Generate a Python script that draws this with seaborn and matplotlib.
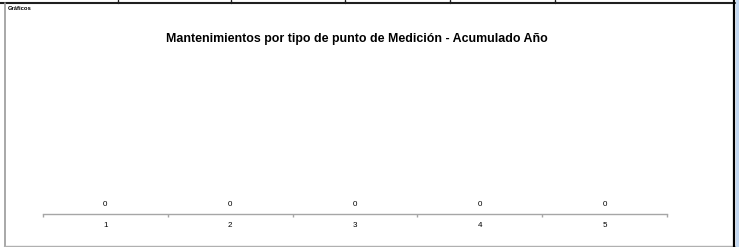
import matplotlib
matplotlib.use("Agg")
import matplotlib.pyplot as plt
import seaborn as sns
import pandas as pd
from matplotlib.lines import Line2D
from matplotlib.patches import Rectangle

# datos
categorias = ["1", "2", "3", "4", "5"]
valores = [0, 0, 0, 0, 0]
titulo = "Mantenimientos por tipo de punto de Medición - Acumulado Año"
etiqueta_hoja = "Gráficos"

df = pd.DataFrame({"cat": categorias, "val": valores})

sns.set_style("white")
plt.rcParams["font.family"] = ["Liberation Sans", "DejaVu Sans"]
plt.rcParams["text.color"] = "black"
plt.rcParams["xtick.color"] = "black"

W, H = 739, 247
fig = plt.figure(figsize=(W / 100, H / 100), dpi=100)
ax = fig.add_axes([43 / W, 1 - 214 / H, (667 - 43) / W, (214 - 60) / H])

sns.barplot(data=df, x="cat", y="val", color="#4f81bd", ax=ax, width=0.6)
ax.set_ylim(0, 1)
ax.set_xlim(-0.5, len(categorias) - 0.5)
for c in ax.containers:
    ax.bar_label(c, fmt="%d", fontsize=5.8, padding=4, color="black")

for s in ["top", "left", "right"]:
    ax.spines[s].set_visible(False)
ax.spines["bottom"].set_color("#a6a6a6")
ax.spines["bottom"].set_linewidth(1.0)
ax.set_yticks([])
ax.set_xlabel("")
ax.set_ylabel("")
ax.tick_params(axis="x", which="major", bottom=False, length=0, pad=6,
               labelsize=5.8, labelcolor="black")
ax.set_xticks([i - 0.5 for i in range(len(categorias) + 1)], minor=True)
ax.tick_params(axis="x", which="minor", bottom=True, length=2.5,
               color="#a6a6a6", width=1)

fig.text(357 / W, 1 - 39 / H, titulo, ha="center", va="center",
         fontsize=8.9, fontweight="bold", color="black")
fig.text(8 / W, 1 - 9 / H, etiqueta_hoja, ha="left", va="center",
         fontsize=4.2, fontweight="bold", color="black")

# marco de la hoja
def px(x, y):
    return x / W, 1 - y / H

fig.add_artist(Line2D(*zip(px(0, 3), px(735, 3)), color="#1f1f1f", lw=1.5))
for xv in [118, 231, 345, 450, 555]:
    fig.add_artist(Line2D(*zip(px(xv, 0), px(xv, 3)), color="#1f1f1f", lw=1))
fig.add_artist(Line2D(*zip(px(4.5, 3), px(4.5, 247)), color="#9a9a9a", lw=1.2))
fig.add_artist(Line2D(*zip(px(4, 245.5), px(735, 245.5)), color="#b0b0b0", lw=1))
fig.add_artist(Line2D(*zip(px(734, 0), px(734, 247)), color="#000000", lw=1.6))
fig.add_artist(Rectangle((736 / W, 0), 3 / W, 1, color="#c5d9f1", transform=fig.transFigure))

fig.savefig("out.png", dpi=100)
